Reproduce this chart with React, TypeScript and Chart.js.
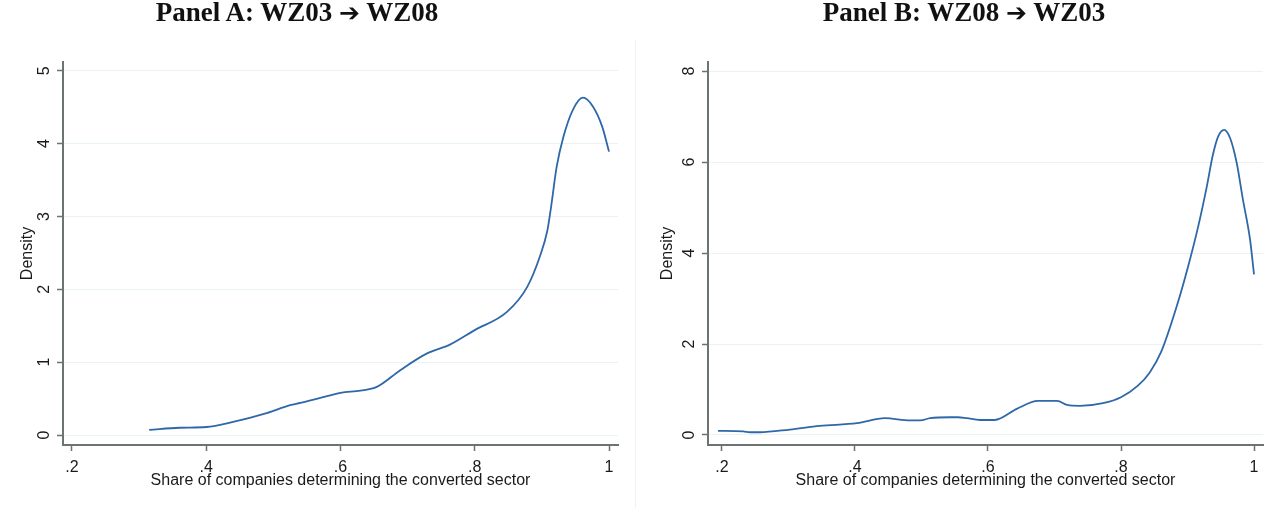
import React, { useEffect, useRef } from "react";
import { Chart, registerables } from "chart.js";

Chart.register(...registerables);

// ---------- Data ----------
const panelATitle = ["Panel A: WZ03 ", "\u2794", " WZ08"];
const panelBTitle = ["Panel B: WZ08 ", "\u2794", " WZ03"];
const xAxisTitle = "Share of companies determining the converted sector";
const yAxisTitle = "Density";

const xTicks = [0.2, 0.4, 0.6, 0.8, 1.0];
const yTicksA = [0, 1, 2, 3, 4, 5];
const yTicksB = [0, 2, 4, 6, 8];

const shareA = [0.315, 0.36, 0.4, 0.44, 0.49, 0.525, 0.54, 0.57, 0.6, 0.63, 0.654, 0.689, 0.729, 0.763, 0.8, 0.848, 0.878, 0.897, 0.908, 0.914, 0.922, 0.932, 0.946, 0.961, 0.976, 0.99, 1.0];
const densityA = [0.07, 0.1, 0.11, 0.18, 0.3, 0.41, 0.44, 0.51, 0.58, 0.61, 0.66, 0.89, 1.12, 1.24, 1.44, 1.69, 2.03, 2.45, 2.8, 3.15, 3.68, 4.09, 4.46, 4.63, 4.51, 4.23, 3.89];

const shareB = [0.194, 0.232, 0.242, 0.257, 0.302, 0.347, 0.403, 0.445, 0.483, 0.498, 0.513, 0.543, 0.555, 0.568, 0.588, 0.61, 0.644, 0.675, 0.704, 0.719, 0.738, 0.773, 0.8, 0.825, 0.843, 0.861, 0.884, 0.901, 0.916, 0.929, 0.938, 0.946, 0.955, 0.964, 0.974, 0.983, 0.994, 1.0];
const densityB = [0.09, 0.08, 0.06, 0.06, 0.12, 0.2, 0.26, 0.37, 0.32, 0.32, 0.37, 0.39, 0.39, 0.37, 0.33, 0.33, 0.58, 0.75, 0.75, 0.66, 0.64, 0.7, 0.83, 1.08, 1.37, 1.85, 2.84, 3.71, 4.58, 5.46, 6.15, 6.56, 6.71, 6.53, 5.98, 5.2, 4.3, 3.53];

// ---------- Styles ----------
const LINE_COLOR = "#2f68a8";
const AXIS_COLOR = "#6b7373";
const GRID_COLOR = "#eaf3f4";
const TEXT_COLOR = "#1a1a1a";
const SANS = "'Liberation Sans', Arial, sans-serif";

function fmtX(v: number): string {
  if (Math.abs(v - 1) < 1e-9) return "1";
  return v.toFixed(1).replace(/^0/, "");
}

type PanelProps = {
  xs: number[];
  ys: number[];
  yTicks: number[];
  xMin: number;
  xMax: number;
  yMin: number;
  yMax: number;
  left: number; // chart area left within canvas
  right: number; // right padding
};

function Panel(props: PanelProps) {
  const ref = useRef<HTMLCanvasElement | null>(null);
  useEffect(() => {
    if (!ref.current) return;
    const data = props.xs.map((x, i) => ({ x, y: props.ys[i] }));
    const chart = new Chart(ref.current, {
      type: "line",
      data: {
        datasets: [
          {
            data,
            borderColor: LINE_COLOR,
            borderWidth: 1.8,
            pointRadius: 0,
            cubicInterpolationMode: "monotone",
            fill: false,
          },
        ],
      },
      options: {
        animation: false,
        responsive: false,
        maintainAspectRatio: false,
        layout: { padding: { top: 62, right: props.right, bottom: 0, left: 0 } },
        plugins: {
          legend: { display: false },
          tooltip: { enabled: false },
          title: { display: false },
        },
        scales: {
          x: {
            type: "linear",
            min: props.xMin,
            max: props.xMax,
            afterBuildTicks: (axis: any) => {
              axis.ticks = xTicks.map((v) => ({ value: v }));
            },
            afterFit: (axis: any) => {
              axis.height = 63;
            },
            ticks: {
              autoSkip: false,
              maxRotation: 0,
              minRotation: 0,
              padding: 7,
              color: TEXT_COLOR,
              font: { family: SANS, size: 16 },
              callback: (v: any) => fmtX(Number(v)),
            },
            grid: {
              display: true,
              drawOnChartArea: false,
              drawTicks: true,
              tickLength: 6,
              tickColor: AXIS_COLOR,
              tickWidth: 1.5,
            },
            border: { display: true, color: AXIS_COLOR, width: 2 },
            title: {
              display: true,
              text: xAxisTitle,
              color: TEXT_COLOR,
              font: { family: SANS, size: 16 },
              padding: { top: 0, bottom: 18 },
            },
          },
          y: {
            type: "linear",
            min: props.yMin,
            max: props.yMax,
            afterBuildTicks: (axis: any) => {
              axis.ticks = props.yTicks.map((v) => ({ value: v }));
            },
            afterFit: (axis: any) => {
              axis.width = props.left;
            },
            ticks: {
              autoSkip: false,
              minRotation: 90,
              maxRotation: 90,
              crossAlign: "center",
              padding: 8,
              color: TEXT_COLOR,
              font: { family: SANS, size: 16 },
              callback: (v: any) => String(v),
            },
            grid: {
              display: true,
              drawOnChartArea: true,
              color: GRID_COLOR,
              lineWidth: 1,
              drawTicks: true,
              tickLength: 6,
              tickColor: AXIS_COLOR,
              tickWidth: 1.5,
            },
            border: { display: true, color: AXIS_COLOR, width: 2 },
            title: {
              display: true,
              text: yAxisTitle,
              color: TEXT_COLOR,
              font: { family: SANS, size: 16 },
              padding: { top: 18, bottom: 0 },
            },
          },
        },
      } as any,
    });
    return () => chart.destroy();
  }, []);
  return <canvas ref={ref} width={640} height={508} style={{ display: "block", width: 640, height: 508 }} />;
}

const titleStyle: React.CSSProperties = {
  position: "absolute",
  top: -5,
  width: 640,
  textAlign: "center",
  fontFamily: "'Liberation Serif', 'Times New Roman', serif",
  fontWeight: "bold",
  fontSize: 27,
  lineHeight: "34px",
  color: "#111",
  whiteSpace: "pre",
};

const arrowStyle: React.CSSProperties = {
  fontFamily: "'DejaVu Sans', sans-serif",
  fontSize: 25,
  fontWeight: "bold",
};

function Title(props: { parts: string[]; left: number }) {
  return (
    <div style={{ ...titleStyle, left: props.left }}>
      {props.parts[0]}
      <span style={arrowStyle}>{props.parts[1]}</span>
      {props.parts[2]}
    </div>
  );
}

export default function App() {
  return (
    <div style={{ position: "fixed", left: 0, top: 0, width: 1280, height: 508, background: "#fff", overflow: "hidden" }}>
      <div style={{ position: "absolute", left: 0, top: 0 }}>
        <Panel xs={shareA} ys={densityA} yTicks={yTicksA} xMin={0.1866} xMax={1.0134} yMin={-0.137} yMax={5.12} left={63} right={22} />
      </div>
      <div style={{ position: "absolute", left: 640, top: 0 }}>
        <Panel xs={shareB} ys={densityB} yTicks={yTicksB} xMin={0.179} xMax={1.0135} yMin={-0.22} yMax={8.2} left={68} right={17} />
      </div>
      <div style={{ position: "absolute", left: 635, top: 40, width: 1, height: 468, background: "#eef4f4" }} />
      <Title parts={panelATitle} left={-23} />
      <Title parts={panelBTitle} left={644} />
    </div>
  );
}
